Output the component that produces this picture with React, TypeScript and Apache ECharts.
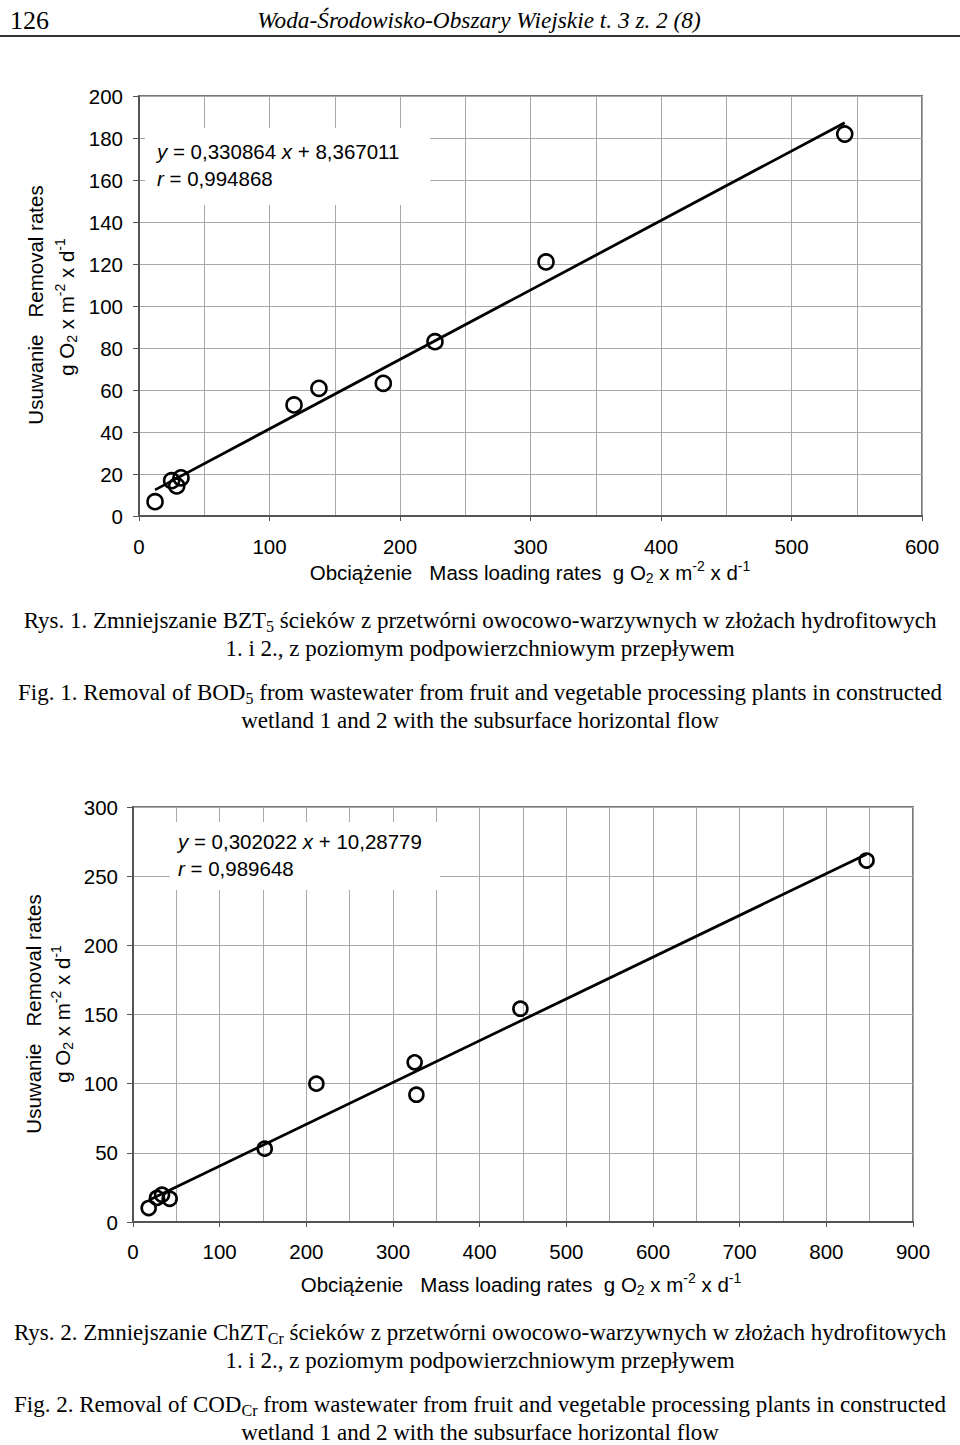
import React, { useEffect, useRef } from 'react';
import * as echarts from 'echarts';

// ---------- data ----------
// Fig. 1 (BOD5)
const fig1Loading = [12.3, 25.0, 28.9, 32.2, 118.8, 137.9, 187.2, 226.8, 311.9, 540.8];
const fig1Removal = [6.8, 16.8, 14.3, 18.2, 52.9, 60.8, 63.2, 83.0, 121.0, 181.9];
const fig1Slope = 0.330864;
const fig1Intercept = 8.367011;
const fig1XTicks = [0, 100, 200, 300, 400, 500, 600];
const fig1YTicks = [0, 20, 40, 60, 80, 100, 120, 140, 160, 180, 200];

// Fig. 2 (COD Cr)
const fig2Loading = [18.1, 27.7, 33.5, 42.3, 152.0, 211.6, 325.0, 327.0, 447.0, 846.4];
const fig2Removal = [10.1, 17.4, 19.7, 16.8, 53.0, 100.0, 115.4, 92.0, 154.2, 261.3];
const fig2Slope = 0.302022;
const fig2Intercept = 10.28779;
const fig2XTicks = [0, 100, 200, 300, 400, 500, 600, 700, 800, 900];
const fig2YTicks = [0, 50, 100, 150, 200, 250, 300];

const SANS = '"Liberation Sans", Arial, sans-serif';
const SERIF = '"Liberation Serif", "Times New Roman", serif';
const SANS_FS = 20.5;
const CAP_FS = 23;

function rich(fs: number, family: string, italic = false) {
  const base: any = { fontSize: fs, fontFamily: family, color: '#000', lineHeight: fs + 6, verticalAlign: 'middle' };
  if (italic) base.fontStyle = 'italic';
  return {
    n: { ...base },
    i: { ...base, fontStyle: 'italic' },
    sub: { fontSize: Math.round(fs * 0.68), fontFamily: family, color: '#000', lineHeight: 14, verticalAlign: 'bottom' },
    sup: { fontSize: Math.round(fs * 0.68), fontFamily: family, color: '#000', lineHeight: 10, verticalAlign: 'top' },
  };
}

function txt(text: string, x: number, y: number, fs: number, family: string, align = 'center', rotation = 0, italic = false): any {
  return {
    type: 'text',
    x,
    y,
    rotation,
    z: 20,
    style: {
      text,
      rich: rich(fs, family, italic),
      align,
      textAlign: align,
      verticalAlign: 'middle',
      textVerticalAlign: 'middle',
    },
  };
}

function fitLine(xs: number[], a: number, b: number) {
  const lo = Math.min(...xs);
  const hi = Math.max(...xs);
  return [
    [lo, a * lo + b],
    [hi, a * hi + b],
  ];
}

const GRID_COLOR = '#a8a8a8';
const AXIS_COLOR = '#555';

function xAxisOf(gridIndex: number, ticks: number[], margin: number) {
  return {
    type: 'value',
    gridIndex,
    min: ticks[0],
    max: ticks[ticks.length - 1],
    interval: ticks[1] - ticks[0],
    axisLine: { show: true, onZero: false, lineStyle: { color: AXIS_COLOR, width: 2 } },
    axisTick: { show: true, length: 5, lineStyle: { color: AXIS_COLOR, width: 1 } },
    axisLabel: { fontSize: SANS_FS, fontFamily: SANS, color: '#000', margin },
    splitLine: { show: true, lineStyle: { color: GRID_COLOR, width: 1 } },
    minorTick: { show: false, splitNumber: 2 },
    minorSplitLine: { show: true, lineStyle: { color: GRID_COLOR, width: 1 } },
  };
}

function yAxisOf(gridIndex: number, ticks: number[], margin: number) {
  return {
    type: 'value',
    gridIndex,
    min: ticks[0],
    max: ticks[ticks.length - 1],
    interval: ticks[1] - ticks[0],
    axisLine: { show: true, onZero: false, lineStyle: { color: AXIS_COLOR, width: 2 } },
    axisTick: { show: true, length: 6, lineStyle: { color: AXIS_COLOR, width: 1 } },
    axisLabel: { fontSize: SANS_FS, fontFamily: SANS, color: '#000', margin },
    splitLine: { show: true, lineStyle: { color: GRID_COLOR, width: 1 } },
  };
}

function scatterOf(i: number, xs: number[], ys: number[], size: number) {
  return {
    type: 'scatter',
    xAxisIndex: i,
    yAxisIndex: i,
    data: xs.map((x, k) => [x, ys[k]]),
    symbol: 'circle',
    symbolSize: size,
    itemStyle: { color: 'rgba(255,255,255,0)', borderColor: '#000', borderWidth: 2.6, opacity: 1 },
    z: 4,
  };
}

function lineOf(i: number, xs: number[], a: number, b: number) {
  return {
    type: 'line',
    xAxisIndex: i,
    yAxisIndex: i,
    data: fitLine(xs, a, b),
    showSymbol: false,
    symbol: 'none',
    lineStyle: { color: '#000', width: 2.8 },
    z: 3,
  };
}

const UNIT = '{n|g O}{sub|2}{n| x m}{sup|-2}{n| x d}{sup|-1}';

export default function App() {
  const ref = useRef<HTMLDivElement>(null);

  useEffect(() => {
    document.body.style.margin = '0';
    if (!ref.current) return;
    const chart = echarts.init(ref.current, undefined, { renderer: 'svg' });

    const graphic: any[] = [
      // header
      txt('{n|126}', 10, 20, 26, SERIF, 'left'),
      txt('{n|Woda-Środowisko-Obszary Wiejskie t. 3 z. 2 (8)}', 479, 20, 23.3, SERIF, 'center', 0, true),
      { type: 'line', z: 20, shape: { x1: 0, y1: 36, x2: 960, y2: 36 }, style: { stroke: '#333', lineWidth: 2 } },

      // fig 1 equation box
      { type: 'rect', z: 10, shape: { x: 145, y: 128, width: 285, height: 77 }, style: { fill: '#fff' } },
      txt('{i|y}{n| = 0,330864 }{i|x}{n| + 8,367011}', 157, 151, SANS_FS, SANS, 'left'),
      txt('{i|r}{n| = 0,994868}', 157, 178, SANS_FS, SANS, 'left'),
      // fig 1 axis titles
      txt('{n|Usuwanie   Removal rates}', 35, 305, SANS_FS, SANS, 'center', Math.PI / 2),
      txt(UNIT, 66, 307, SANS_FS, SANS, 'center', Math.PI / 2),
      txt('{n|Obciążenie   Mass loading rates  }' + UNIT, 530, 572, SANS_FS, SANS, 'center'),
      // fig 1 captions
      txt('{n|Rys. 1. Zmniejszanie BZT}{sub|5}{n| ścieków z przetwórni owocowo-warzywnych w złożach hydrofitowych}', 480, 620, CAP_FS, SERIF),
      txt('{n|1. i 2., z poziomym podpowierzchniowym przepływem}', 480, 648, CAP_FS, SERIF),
      txt('{n|Fig. 1. Removal of BOD}{sub|5}{n| from wastewater from fruit and vegetable processing plants in constructed}', 480, 692, CAP_FS, SERIF),
      txt('{n|wetland 1 and 2 with the subsurface horizontal flow}', 480, 720, CAP_FS, SERIF),

      // fig 2 equation box
      { type: 'rect', z: 10, shape: { x: 170, y: 822, width: 270, height: 68 }, style: { fill: '#fff' } },
      txt('{i|y}{n| = 0,302022 }{i|x}{n| + 10,28779}', 178, 841, SANS_FS, SANS, 'left'),
      txt('{i|r}{n| = 0,989648}', 178, 868, SANS_FS, SANS, 'left'),
      // fig 2 axis titles
      txt('{n|Usuwanie   Removal rates}', 33, 1014, SANS_FS, SANS, 'center', Math.PI / 2),
      txt(UNIT, 62, 1014, SANS_FS, SANS, 'center', Math.PI / 2),
      txt('{n|Obciążenie   Mass loading rates  }' + UNIT, 521, 1284, SANS_FS, SANS, 'center'),
      // fig 2 captions
      txt('{n|Rys. 2. Zmniejszanie ChZT}{sub|Cr}{n| ścieków z przetwórni owocowo-warzywnych w złożach hydrofitowych}', 480, 1332, CAP_FS, SERIF),
      txt('{n|1. i 2., z poziomym podpowierzchniowym przepływem}', 480, 1360, CAP_FS, SERIF),
      txt('{n|Fig. 2. Removal of COD}{sub|Cr}{n| from wastewater from fruit and vegetable processing plants in constructed}', 480, 1404, CAP_FS, SERIF),
      txt('{n|wetland 1 and 2 with the subsurface horizontal flow}', 480, 1432, CAP_FS, SERIF),
    ];

    const option: any = {
      animation: false,
      backgroundColor: '#fff',
      grid: [
        { left: 139, top: 96, width: 783, height: 420, show: true, borderColor: '#777', borderWidth: 2, backgroundColor: 'transparent' },
        { left: 133, top: 807, width: 780, height: 415, show: true, borderColor: '#777', borderWidth: 2, backgroundColor: 'transparent' },
      ],
      xAxis: [xAxisOf(0, fig1XTicks, 20), xAxisOf(1, fig2XTicks, 19)],
      yAxis: [yAxisOf(0, fig1YTicks, 16), yAxisOf(1, fig2YTicks, 15)],
      series: [
        lineOf(0, fig1Loading, fig1Slope, fig1Intercept),
        scatterOf(0, fig1Loading, fig1Removal, 15),
        lineOf(1, fig2Loading, fig2Slope, fig2Intercept),
        scatterOf(1, fig2Loading, fig2Removal, 14),
      ],
      graphic,
    };

    chart.setOption(option);
    return () => {
      chart.dispose();
    };
  }, []);

  return <div ref={ref} style={{ width: 960, height: 1445 }} />;
}
